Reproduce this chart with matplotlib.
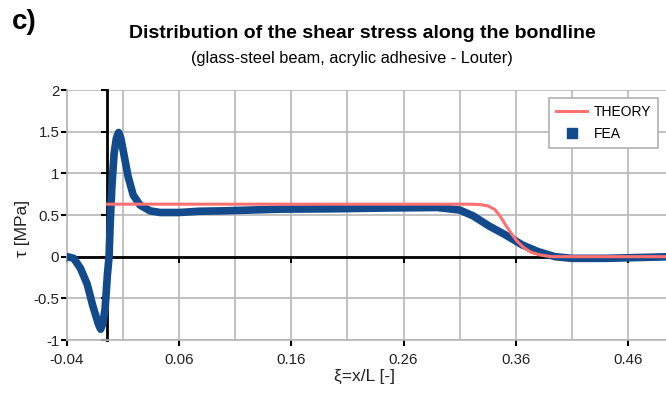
import matplotlib.pyplot as plt
from matplotlib.lines import Line2D
from matplotlib.ticker import FixedLocator, NullFormatter

plt.rcParams['font.family'] = ['Liberation Sans', 'DejaVu Sans']
plt.rcParams['axes.unicode_minus'] = False

# FEA shear stress along bondline
fea_xi = [-0.040, -0.034, -0.028, -0.022, -0.017, -0.012, -0.010, -0.008, -0.006,
          -0.004, -0.0025, -0.0015, 0.000, 0.002, 0.004, 0.006, 0.008, 0.010,
          0.0145, 0.019, 0.025, 0.034, 0.043, 0.060, 0.078, 0.10, 0.15, 0.20,
          0.25, 0.29, 0.31, 0.322, 0.336, 0.351, 0.366, 0.380, 0.395, 0.41,
          0.44, 0.47, 0.50]
fea_tau = [0.00, -0.02, -0.14, -0.33, -0.59, -0.81, -0.87, -0.80, -0.62,
           -0.22, 0.00, 0.40, 0.84, 1.24, 1.42, 1.49, 1.42, 1.28,
           0.96, 0.74, 0.62, 0.55, 0.53, 0.53, 0.545, 0.55, 0.57, 0.575,
           0.585, 0.59, 0.56, 0.49, 0.37, 0.26, 0.14, 0.06, 0.00, -0.02,
           -0.02, -0.01, 0.00]

# theory curve
th_xi = [-0.004, 0.30, 0.32, 0.328, 0.335, 0.341, 0.346, 0.351, 0.356,
         0.361, 0.367, 0.374, 0.382, 0.392, 0.50]
th_tau = [0.63, 0.63, 0.63, 0.625, 0.61, 0.57, 0.49, 0.38, 0.28,
          0.19, 0.11, 0.05, 0.02, 0.00, 0.00]

bond_start = -0.004

x_ticks = [-0.04, 0.06, 0.16, 0.26, 0.36, 0.46]
x_minor = [0.01, 0.11, 0.21, 0.31, 0.41]
y_ticks = [-1, -0.5, 0, 0.5, 1, 1.5, 2]
y_labels = ['-1', '-0.5', '0', '0.5', '1', '1.5', '2']

blue = '#124a8c'
red = '#ff7070'
gridc = '#b8b8b8'

fig = plt.figure(figsize=(6.66, 3.95), dpi=100)
ax = fig.add_axes([67/666, 1-340/395, (666-67)/666, 250/395])
ax.set_xlim(-0.04, 0.494)
ax.set_ylim(-1, 2)

ax.set_axisbelow(True)
ax.xaxis.set_major_locator(FixedLocator(x_ticks))
ax.xaxis.set_minor_locator(FixedLocator(x_minor))
ax.xaxis.set_minor_formatter(NullFormatter())
ax.set_xticklabels(['%.2f' % v for v in x_ticks])
ax.set_yticks(y_ticks)
ax.set_yticklabels(y_labels)
ax.grid(True, which='both', color=gridc, lw=1.2)
ax.tick_params(which='major', direction='out', length=4, width=1.5, color='black',
               labelsize=10.8, labelcolor='#222222')
ax.tick_params(axis='x', which='major', pad=5.5)
ax.tick_params(axis='y', which='major', pad=1.5)
ax.tick_params(which='minor', length=0)
for s in ['top', 'right']:
    ax.spines[s].set_visible(False)
for s in ['left', 'bottom']:
    ax.spines[s].set_color(gridc)
    ax.spines[s].set_linewidth(1.2)

# zero line with ticks below it
sx = ax.secondary_xaxis(0, transform=ax.transData)
sx.set_xticks(x_ticks)
sx.tick_params(direction='out', length=4, width=1.5, color='black', labelbottom=False, labeltop=False)
for s in sx.spines.values():
    s.set_color('black')
    s.set_linewidth(2)
sx.set_zorder(1)

# vertical bondline start
sy = ax.secondary_yaxis(bond_start, transform=ax.transData)
sy.set_yticks(y_ticks)
sy.tick_params(direction='out', length=4, width=1.5, color='black', labelleft=False, labelright=False)
for s in sy.spines.values():
    s.set_color('black')
    s.set_linewidth(2)
sy.set_zorder(1)

ax.plot(fea_xi, fea_tau, color=blue, lw=5.5, solid_joinstyle='round', zorder=3)
ax.plot(th_xi, th_tau, color=red, lw=2.2, zorder=4)

handles = [Line2D([], [], color=red, lw=2.2),
           Line2D([], [], color=blue, lw=0, marker='s', markersize=7)]
leg = ax.legend(handles, ['THEORY', 'FEA'], loc='upper right',
                bbox_to_anchor=(0.987, 0.968), borderaxespad=0, fontsize=10,
                fancybox=False, framealpha=1, edgecolor='#b0b0b0', borderpad=0.5,
                handlelength=2.2, handletextpad=0.5, labelspacing=0.6)
leg.get_frame().set_linewidth(1.2)

fig.text(12/666, 1-22/395, 'c)', fontsize=20, fontweight='bold', ha='left', va='center')
fig.text(362/666, 1-34/395, 'Distribution of the shear stress along the bondline',
         fontsize=14, fontweight='bold', ha='center', va='center')
fig.text(352/666, 1-59/395, '(glass-steel beam, acrylic adhesive - Louter)',
         fontsize=11.8, ha='center', va='center')
fig.text(22/666, 1-228/395, 'τ [MPa]', fontsize=12.5, rotation=90, ha='center', va='center',
         color='#222222')
fig.text(364/666, 1-376/395, 'ξ=x/L [-]', fontsize=12.5, ha='center', va='center',
         color='#222222')

fig.savefig('out.png', dpi=100)
